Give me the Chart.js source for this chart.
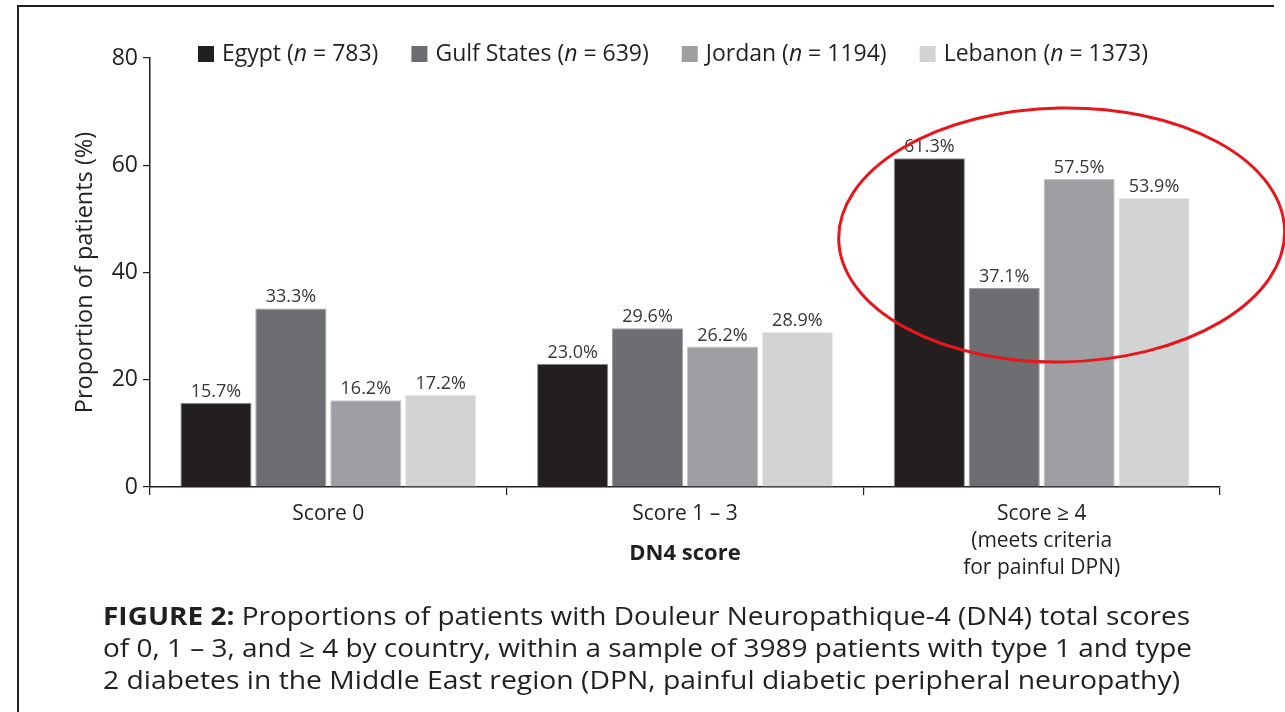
<!DOCTYPE html>
<html>
<head>
<meta charset="utf-8">
<script src="https://cdn.jsdelivr.net/npm/chart.js@4.4.1/dist/chart.umd.min.js"></script>
<style>
  html, body { margin: 0; padding: 0; background: #fff; }
  #wrap { position: relative; width: 1285px; height: 712px; overflow: hidden; }
  #frame { position: absolute; left: 17px; top: 5px; width: 1255px; height: 760px;
           border-top: 2px solid #231f20; border-left: 2px solid #231f20; }
  #chart { position: absolute; left: 0; top: 0; }
  #caption { position: absolute; left: 103px; top: 599px; color: #231f20;
             font-family: 'Open Sans', sans-serif; font-size: 25px; line-height: 32px; }
  #caption span.line { display: inline-block; white-space: nowrap; transform-origin: 0 0; }
</style>
</head>
<body>
<div id="wrap">
  <div id="frame"></div>
  <canvas id="chart" width="1285" height="712"></canvas>
  <div id="caption">
    <span class="line"><b>FIGURE 2:</b> Proportions of patients with Douleur Neuropathique-4 (DN4) total scores</span><br>
    <span class="line">of 0, 1 – 3, and ≥ 4 by country, within a sample of 3989 patients with type 1 and type</span><br>
    <span class="line">2 diabetes in the Middle East region (DPN, painful diabetic peripheral neuropathy)</span>
  </div>
</div>
<script>
// DN4 score categories (x axis)
const categories = [
    ['Score 0'],
    ['Score 1 – 3'],
    ['Score ≥ 4', '(meets criteria', 'for painful DPN)']
];

// countries and sample sizes (legend)
const countries = ['Egypt', 'Gulf States', 'Jordan', 'Lebanon'];
const sampleSizes = [783, 639, 1194, 1373];

// proportion of patients (%) per category
const egypt = [15.7, 23.0, 61.3];
const gulfStates = [33.3, 29.6, 37.1];
const jordan = [16.2, 26.2, 57.5];
const lebanon = [17.2, 28.9, 53.9];

const yTicks = [0, 20, 40, 60, 80];

const barColors = ['#231f20', '#6d6e71', '#9d9fa2', '#d1d3d4'];
const barEdges = ['#8e8c8d', '#9c9d9f', '#c4c5c7', '#e8e9ea'];
const ink = '#231f20';
const fontFamily = "'Open Sans', sans-serif";

Chart.defaults.font.family = fontFamily;
Chart.defaults.color = ink;

// value labels above bars
const barLabels = {
    id: 'barLabels',
    afterDatasetsDraw(chart) {
        const ctx = chart.ctx;
        ctx.save();
        ctx.font = '18px ' + fontFamily;
        ctx.fillStyle = '#3a3637';
        ctx.textAlign = 'center';
        ctx.textBaseline = 'alphabetic';
        chart.data.datasets.forEach((ds, i) => {
            chart.getDatasetMeta(i).data.forEach((bar, j) => {
                ctx.fillText(ds.data[j].toFixed(1) + '%', bar.x, bar.y - 6);
            });
        });
        ctx.restore();
    }
};

// legend with italic n
const topLegend = {
    id: 'topLegend',
    afterDraw(chart) {
        const ctx = chart.ctx;
        const normal = '23px ' + fontFamily;
        const italic = 'italic 23px ' + fontFamily;
        let x = 198;
        const cy = 54;
        ctx.save();
        ctx.textBaseline = 'middle';
        countries.forEach((name, i) => {
            ctx.fillStyle = barColors[i];
            ctx.fillRect(x, cy - 8, 16, 16);
            x += 24;
            ctx.fillStyle = ink;
            const parts = [[name + ' (', normal], ['n', italic], [' = ' + sampleSizes[i] + ')', normal]];
            parts.forEach(([txt, f]) => {
                ctx.font = f;
                ctx.fillText(txt, x, cy);
                x += ctx.measureText(txt).width;
            });
            x += 33;
        });
        ctx.restore();
    }
};

// red highlight ellipse around the "Score >= 4" group
const highlight = {
    id: 'highlight',
    afterDraw(chart) {
        const xs = chart.scales.x, ys = chart.scales.y;
        const cx = xs.getPixelForValue(2) + 20;
        const cy = ys.getPixelForValue(47);
        const ctx = chart.ctx;
        ctx.save();
        ctx.strokeStyle = '#e8161b';
        ctx.lineWidth = 3;
        ctx.beginPath();
        ctx.ellipse(cx, cy, 223, 127, -0.02, 0, Math.PI * 2);
        ctx.stroke();
        ctx.restore();
    }
};

const datasets = [egypt, gulfStates, jordan, lebanon].map((values, i) => ({
    label: countries[i],
    data: values,
    backgroundColor: barColors[i],
    borderColor: barEdges[i],
    borderWidth: 1,
    categoryPercentage: 0.84,
    barPercentage: 0.95
}));

new Chart(document.getElementById('chart'), {
    type: 'bar',
    data: { labels: categories, datasets: datasets },
    options: {
        responsive: false,
        animation: false,
        layout: { padding: { top: 58, right: 65, bottom: 125, left: 0 } },
        plugins: {
            legend: { display: false },
            tooltip: { enabled: false }
        },
        scales: {
            x: {
                afterFit(scale) { scale.height = 100; },
                grid: { drawOnChartArea: false, tickLength: 8, color: ink, lineWidth: 1.2 },
                border: { color: ink, width: 1.5 },
                ticks: { font: { size: 21, lineHeight: 1.3 }, padding: 5, color: ink, maxRotation: 0 },
                title: {
                    display: true,
                    text: 'DN4 score',
                    font: { size: 22, weight: 'bold', lineHeight: 1.2 },
                    padding: { top: 0, bottom: 20 },
                    color: ink
                }
            },
            y: {
                min: 0,
                max: 80,
                afterFit(scale) { scale.width = 150; },
                afterBuildTicks(scale) { scale.ticks = yTicks.map(v => ({ value: v })); },
                grid: { drawOnChartArea: false, tickLength: 7, color: ink, lineWidth: 1.2 },
                border: { color: ink, width: 1.5 },
                ticks: { font: { size: 23 }, padding: 5, color: ink },
                title: {
                    display: true,
                    text: 'Proportion of patients (%)',
                    font: { size: 23.5, lineHeight: 1.2 },
                    padding: { top: 71, bottom: 0 },
                    color: ink
                }
            }
        }
    },
    plugins: [barLabels, topLegend, highlight]
});

// fit each caption line to the printed width
const captionWidths = [1087, 1089, 1077];
document.querySelectorAll('#caption span.line').forEach((el, i) => {
    const w = el.getBoundingClientRect().width;
    el.style.transform = 'scaleX(' + (captionWidths[i] / w) + ')';
});
</script>
</body>
</html>
